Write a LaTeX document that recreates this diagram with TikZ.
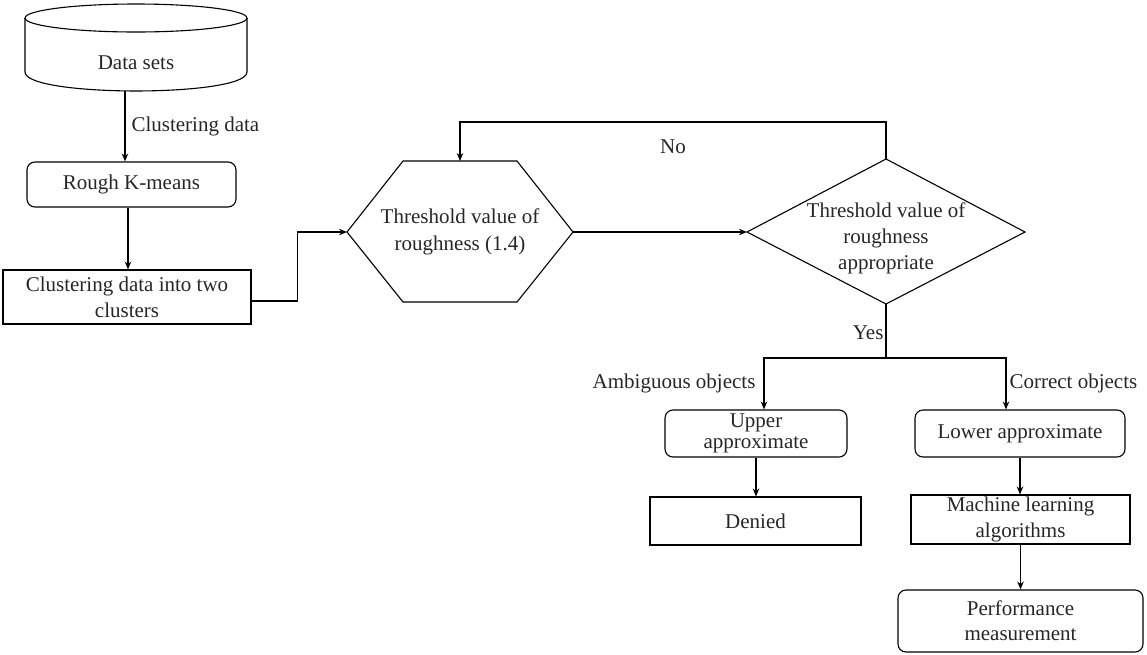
\documentclass[tikz,border=0pt]{standalone}
\usepackage{fontspec}
\setmainfont{Liberation Serif}
\usetikzlibrary{arrows.meta}
\begin{document}
\begin{tikzpicture}[x=1pt,y=-1pt,
  line width=1.1pt,
  >={Stealth[length=8pt,width=6.5pt]},
  every node/.style={font=\fontsize{21}{26}\selectfont, text=black!85},
  lbl/.style={inner sep=2pt},
  boxr/.style={draw, rounded corners=8pt, inner sep=0pt, align=center},
  boxs/.style={draw, inner sep=0pt, align=center},
  shapeline/.style={draw, line width=1.1pt, line join=miter}]
\useasboundingbox (0,0) rectangle (1147,654);

% Data sets cylinder
\draw[shapeline] (136,18) ellipse [x radius=111pt, y radius=14pt];
\draw[shapeline] (25,18) -- (25,72) .. controls (25,97.3) and (247,97.3) .. (247,72) -- (247,18);
\node (ds) at (136,63) {Data sets};
\coordinate (dsb) at (125,91);

% boxes
\node[boxr, minimum width=209pt, minimum height=45pt] (rkm) at (131.5,184.5) {Rough K-means};
\node[boxs, minimum width=248pt, minimum height=54pt] (cdc) at (127,297) {Clustering data into two\\clusters};

% hexagon
\coordinate (hexL) at (347,232);
\coordinate (hexR) at (573,232);
\coordinate (hexT) at (460,161);
\draw[shapeline] (hexL) -- (403,161) -- (517,161) -- (hexR) -- (517,302) -- (403,302) -- cycle;
\node[align=center, font=\fontsize{21}{27}\selectfont] (hex) at (460,231.5) {Threshold value of\\roughness (1.4)};

% diamond
\coordinate (diaL) at (747,232);
\coordinate (diaT) at (886,159);
\coordinate (diaR) at (1025,232);
\coordinate (diaB) at (886,304);
\draw[shapeline] (diaL) -- (diaT) -- (diaR) -- (diaB) -- cycle;
\node[align=center] (dia) at (886,238) {Threshold value of\\roughness\\appropriate};

% lower boxes
\node[boxr, minimum width=182pt, minimum height=47pt, font=\fontsize{21}{21}\selectfont] (upper) at (756,433.5) {Upper\\approximate};
\node[boxs, minimum width=211pt, minimum height=48pt] (denied) at (755.5,521) {Denied};
\node[boxr, minimum width=210pt, minimum height=47pt] (lower) at (1020,433.5) {Lower approximate};
\node[boxs, minimum width=219pt, minimum height=49pt] (mla) at (1020.5,519.5) {Machine learning\\algorithms};
\node[boxr, minimum width=245pt, minimum height=62pt, font=\fontsize{21}{25}\selectfont] (perf) at (1020.5,621) {Performance\\measurement};

% connectors
\draw[->] (dsb) -- (dsb |- rkm.north) node[midway, right, lbl, xshift=4pt] {Clustering data};
\draw[->] ([xshift=-3.5pt]rkm.south) -- ([xshift=-3.5pt]rkm.south |- cdc.north);
\draw[->] ([yshift=-4pt]cdc.east) -- ++(46,0) |- (hexL);
\draw[->] (hexR) -- (diaL);
\draw[->] (diaT) -- ++(0,-37) -| (hexT);
\node (no) at (673,147) {No};
\coordinate (split) at (886,358);
\draw (diaB) -- (split) node[midway, left, lbl, yshift=-2pt] {Yes};
\draw[->] (split) -| ([xshift=8pt]upper.north) node[pos=0.75, left, inner sep=8pt] {Ambiguous objects};
\draw[->] (split) -| ([xshift=-14pt]lower.north) node[pos=0.75, right, lbl, xshift=1pt] {Correct objects};
\draw[->] (upper.south) -- (upper.south |- denied.north);
\draw[->] (lower.south) -- (lower.south |- mla.north);
\draw[->] (mla.south) -- (mla.south |- perf.north);
\end{tikzpicture}
\end{document}
